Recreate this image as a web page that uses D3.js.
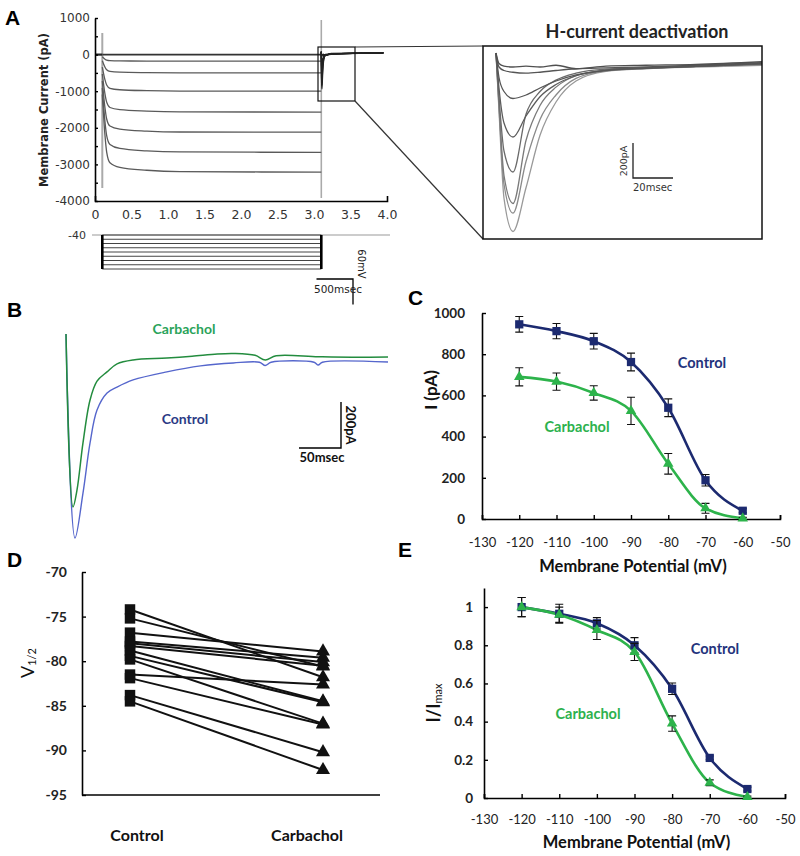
<!DOCTYPE html>
<html>
<head>
<meta charset="utf-8">
<script src="https://cdn.jsdelivr.net/npm/d3@7"></script>
<style>
  body { margin: 0; background: #fff; }
  svg { display: block; font-family: Lato, "Open Sans", sans-serif; }
</style>
</head>
<body>
<svg id="fig" width="800" height="856"></svg>
<script>
// ---------------- data ----------------

// A: current traces during the hyperpolarising steps (s, pA)
var stepTimes = [0.1, 0.137, 0.16, 0.205, 0.34, 0.71, 1.16, 3.1];
var stepTraces = [
  [0, 0, 0, 0, 0, 0, 0, 0],
  [-60, -125, -150, -165, -173, -177, -180, -180],
  [-170, -345, -415, -460, -480, -492, -498, -500],
  [-340, -690, -830, -920, -960, -985, -997, -1000],
  [-530, -1080, -1300, -1445, -1505, -1545, -1565, -1570],
  [-720, -1460, -1760, -1950, -2035, -2090, -2115, -2120],
  [-910, -1840, -2215, -2455, -2565, -2630, -2660, -2670],
  [-1090, -2215, -2665, -2955, -3080, -3160, -3200, -3210]
];
var holdTimes = [0, 0.1];
var holdCurrent = [0, 0];
var stepOn = 0.1, stepOff = 3.1;
var aYTicks = [1000, 0, -1000, -2000, -3000, -4000];
var aYMinor = [1000, 500, 0, -500, -1000, -1500, -2000, -2500, -3000, -3500, -4000];
var aXTicks = [0, 0.5, 1.0, 1.5, 2.0, 2.5, 3.0, 3.5, 4.0];
var protocolLevels = [-40, -50, -60, -70, -80, -90, -100, -110, -120];

// A inset: tail currents after the step (ms, pA)
var tailMs = [0, 1.5, 4, 8.5, 15, 22, 30, 40, 55, 75, 100, 133];
var tailTraces = [
  [80, 20, 5, 0, 5, 0, 10, -10, 5, 10, 15, 30],
  [80, 0, -20, -30, -35, -30, -20, -10, -5, 0, 10, 25],
  [80, -60, -140, -180, -160, -120, -80, -45, -20, -8, 3, 20],
  [80, -120, -320, -400, -280, -170, -100, -50, -18, -5, 3, 20],
  [80, -170, -480, -600, -270, -140, -75, -35, -12, -5, 5, 15],
  [80, -210, -620, -780, -420, -220, -115, -50, -18, -5, 5, 20],
  [80, -230, -670, -835, -540, -300, -160, -65, -22, -8, 3, 18],
  [80, -250, -750, -940, -690, -390, -200, -80, -25, -10, 0, 10]
];
var tailGrays = ["#505050", "#555", "#555", "#5c5c5c", "#6a6a6a", "#7a7a7a", "#8a8a8a", "#999"];
var tailEndTime = 3.95, tailEndCurrent = 45;

// B: example deactivation traces (ms, pA)
var bControlT = [0, 10.7, 20.2, 28.6, 36.9, 48.8, 60.7, 79.8, 120, 160, 199, 230, 237, 244, 295, 300, 305, 383];
var bControlI = [135, -752, -557, -339, -196, -122, -96, -65, -30, -4, 9, 12, -2, 12, 12, 0, 12, 13];
var bCarbT = [0, 8.3, 13.1, 20.2, 28.6, 36.9, 48.8, 60.7, 79.8, 120, 150, 180, 200, 225, 237, 250, 300, 340, 383];
var bCarbI = [135, -617, -543, -339, -152, -70, -30, 5, 22, 30, 38, 48, 50, 42, 22, 40, 36, 34, 35];

// C, E: I-V and normalised activation
var potentials = [-120, -110, -100, -90, -80, -70, -60];
var cControl = [945, 912, 863, 762, 540, 188, 40];
var cControlErr = [38, 37, 38, 43, 43, 28, 10];
var cCarb = [690, 667, 612, 525, 268, 52, 3];
var cCarbErr = [44, 42, 35, 66, 50, 24, 5];
var cYTicks = [0, 200, 400, 600, 800, 1000];
var vTicks = [-130, -120, -110, -100, -90, -80, -70, -60, -50];

var eControl = [1.0, 0.965, 0.915, 0.80, 0.572, 0.21, 0.047];
var eControlErr = [0.05, 0.05, 0.03, 0.04, 0.03, 0.01, 0.01];
var eCarb = [1.0, 0.96, 0.88, 0.765, 0.39, 0.08, 0.005];
var eCarbErr = [0.05, 0.04, 0.05, 0.045, 0.04, 0.015, 0.005];
var eYTicks = [0, 0.2, 0.4, 0.6, 0.8, 1];

// D: paired V1/2 values
var dGroups = ["Control", "Carbachol"];
var dControl = [-74.2, -75.2, -76.8, -77.8, -78.0, -78.3, -78.8, -79.4, -79.8, -81.5, -81.9, -83.8, -84.5];
var dCarb = [-81.8, -80.6, -78.9, -79.6, -80.1, -80.5, -84.5, -84.6, -87.0, -82.6, -87.1, -90.2, -92.2];
var dYTicks = [-70, -75, -80, -85, -90, -95];

var navy = "#1c2a70", green = "#2db34b";

// ---------------- drawing ----------------
var svg = d3.select("#fig");
svg.append("rect").attr("width", 800).attr("height", 856).attr("fill", "#fff");

function styleAxis(g, font, size, weight, color) {
  g.select(".domain").attr("stroke", "#000").attr("stroke-width", 1.6);
  g.selectAll(".tick line").attr("stroke", "#000").attr("stroke-width", 1.4);
  g.selectAll("text").attr("font-family", font).attr("font-size", size)
    .attr("font-weight", weight).attr("fill", color || "#111");
}

function panelLabel(t, x, y) {
  svg.append("text").attr("x", x).attr("y", y).text(t)
    .attr("font-family", "Liberation Sans, Arial").attr("font-weight", "bold").attr("font-size", 21);
}

function pairs(xs, ys) { return xs.map(function(x, i) { return [x, ys[i]]; }); }

panelLabel("A", 5, 25);
panelLabel("B", 7, 317);
panelLabel("C", 408, 305);
panelLabel("D", 7, 567);
panelLabel("E", 398, 557);

// ===== panel A =====
var xA = d3.scaleLinear().domain([0, 4]).range([95, 387]);
var yA = d3.scaleLinear().domain([-4000, 1000]).range([201, 18]);
var gA = svg.append("g");

var lineA = d3.line().x(function(d) { return xA(d[0]); }).y(function(d) { return yA(d[1]); })
  .curve(d3.curveMonotoneX);

// capacitive artefacts
gA.append("line").attr("x1", xA(stepOn)).attr("x2", xA(stepOn)).attr("y1", 33).attr("y2", 188)
  .attr("stroke", "#aaa").attr("stroke-width", 2);
gA.append("line").attr("x1", xA(stepOff)).attr("x2", xA(stepOff)).attr("y1", 20).attr("y2", 198)
  .attr("stroke", "#aaa").attr("stroke-width", 1.6);

gA.append("path").attr("d", lineA(pairs(holdTimes, holdCurrent)))
  .attr("fill", "none").attr("stroke", "#222").attr("stroke-width", 2.2);
stepTraces.forEach(function(tr, i) {
  gA.append("path").attr("d", lineA(pairs(stepTimes, tr)))
    .attr("fill", "none").attr("stroke", i === 0 ? "#333" : "#5a5a5a").attr("stroke-width", i === 0 ? 1.6 : 1.3);
});
// tails after the step
tailTraces.forEach(function(tr) {
  var pts = tailMs.map(function(ms, j) { return [stepOff + ms / 1000, tr[j]]; });
  pts.push([tailEndTime, tailEndCurrent]);
  gA.append("path").attr("d", lineA(pts)).attr("fill", "none")
    .attr("stroke", "#222").attr("stroke-width", 1.3);
});

var axAy = gA.append("g").attr("transform", "translate(95,0)")
  .call(d3.axisLeft(yA).tickValues(aYMinor).tickSizeInner(-3).tickSizeOuter(0).tickPadding(5)
    .tickFormat(function(d) { return aYTicks.indexOf(d) >= 0 ? String(d) : ""; }));
styleAxis(axAy, "DejaVu Sans", 12, "normal", "#333");
var axAx = gA.append("g").attr("transform", "translate(0,201)")
  .call(d3.axisBottom(xA).tickValues(aXTicks).tickSizeInner(0).tickSizeOuter(-5).tickPadding(9)
    .tickFormat(function(d) { return d === 0 ? "0" : d.toFixed(1); }));
styleAxis(axAx, "DejaVu Sans", 12.5, "normal", "#333");

gA.append("text").attr("transform", "translate(44,110) rotate(-90)").attr("text-anchor", "middle")
  .attr("dominant-baseline", "central").attr("font-family", "DejaVu Sans").attr("font-weight", "bold")
  .attr("font-size", 11.5).attr("fill", "#222").text("Membrane Current (pA)");

// zoom box + connectors
gA.append("rect").attr("x", 318).attr("y", 47).attr("width", 37).attr("height", 54)
  .attr("fill", "none").attr("stroke", "#111").attr("stroke-width", 1.2);
gA.append("line").attr("x1", 355).attr("y1", 47).attr("x2", 483).attr("y2", 46).attr("stroke", "#333").attr("stroke-width", 1.2);
gA.append("line").attr("x1", 355).attr("y1", 101).attr("x2", 483).attr("y2", 239).attr("stroke", "#333").attr("stroke-width", 1.2);

// voltage protocol
var yV = d3.scaleLinear().domain([-120, -40]).range([269, 235]);
gA.append("line").attr("x1", 92).attr("x2", 390).attr("y1", yV(-40)).attr("y2", yV(-40))
  .attr("stroke", "#999").attr("stroke-width", 1);
protocolLevels.forEach(function(v) {
  gA.append("line").attr("x1", xA(stepOn)).attr("x2", xA(stepOff)).attr("y1", yV(v)).attr("y2", yV(v))
    .attr("stroke", "#444").attr("stroke-width", 1);
});
[stepOn, stepOff].forEach(function(t) {
  gA.append("line").attr("x1", xA(t)).attr("x2", xA(t)).attr("y1", yV(-40)).attr("y2", yV(-120))
    .attr("stroke", "#000").attr("stroke-width", 2.6);
});
gA.append("text").attr("x", 86).attr("y", yV(-40)).attr("dy", "0.35em").attr("text-anchor", "end")
  .attr("font-family", "DejaVu Sans").attr("font-size", 11).attr("fill", "#333").text("-40");
// scale bar 60 mV / 500 ms
var sbX = 353, sbY = 279;
gA.append("path").attr("d", "M" + (sbX - (xA(0.5) - xA(0))) + "," + sbY + "H" + sbX + "V" + (sbY - (yV(-60) - yV(-120))))
  .attr("fill", "none").attr("stroke", "#000").attr("stroke-width", 1.3);
gA.append("text").attr("transform", "translate(358," + (sbY - 15) + ") rotate(90)").attr("text-anchor", "middle")
  .attr("font-family", "DejaVu Sans").attr("font-size", 10).attr("fill", "#222").text("60mV");
gA.append("text").attr("x", 338).attr("y", 293).attr("text-anchor", "middle")
  .attr("font-family", "DejaVu Sans").attr("font-size", 10.5).attr("fill", "#222").text("500msec");

// ===== panel A inset =====
var xI = d3.scaleLinear().domain([0, 133]).range([496, 762]);
var yI = d3.scaleLinear().domain([0, -1000]).range([67, 242]);
var gI = svg.append("g");
gI.append("text").attr("x", 637).attr("y", 38).attr("text-anchor", "middle").attr("font-weight", "bold")
  .attr("font-size", 18).attr("fill", "#222").text("H-current deactivation");
var lineI = d3.line().x(function(d) { return xI(d[0]); }).y(function(d) { return yI(d[1]); })
  .curve(d3.curveMonotoneX);
tailTraces.slice().reverse().forEach(function(tr, k) {
  var i = tailTraces.length - 1 - k;
  gI.append("path").attr("d", lineI(pairs(tailMs, tr))).attr("fill", "none")
    .attr("stroke", tailGrays[i]).attr("stroke-width", 1.3);
});
gI.append("rect").attr("x", 483).attr("y", 46).attr("width", 279).attr("height", 193)
  .attr("fill", "none").attr("stroke", "#111").attr("stroke-width", 1.5);
var iX = 633, iY = 178;
gI.append("path").attr("d", "M" + iX + "," + (iY - (yI(-200) - yI(0))) + "V" + iY + "H" + (iX + xI(20) - xI(0)))
  .attr("fill", "none").attr("stroke", "#222").attr("stroke-width", 1.3);
gI.append("text").attr("transform", "translate(627," + (iY - 17) + ") rotate(-90)").attr("text-anchor", "middle")
  .attr("font-family", "DejaVu Sans").attr("font-size", 9.5).attr("fill", "#333").text("200pA");
gI.append("text").attr("x", iX).attr("y", 191).attr("font-family", "DejaVu Sans").attr("font-size", 10)
  .attr("fill", "#333").text("20msec");

// ===== panel B =====
var xB = d3.scaleLinear().domain([0, 383]).range([66, 388]);
var yB = d3.scaleLinear().domain([0, -800]).range([365, 549]);
var gB = svg.append("g");
var lineB = d3.line().x(function(d) { return xB(d[0]); }).y(function(d) { return yB(d[1]); })
  .curve(d3.curveCatmullRom.alpha(0.5));
gB.append("path").attr("d", lineB(pairs(bControlT, bControlI))).attr("fill", "none")
  .attr("stroke", "#5566cc").attr("stroke-width", 1.4);
gB.append("path").attr("d", lineB(pairs(bCarbT, bCarbI))).attr("fill", "none")
  .attr("stroke", "#238c3e").attr("stroke-width", 1.5);
gB.append("text").attr("x", 184).attr("y", 329).attr("dy", "0.35em").attr("text-anchor", "middle")
  .attr("font-weight", "bold").attr("font-size", 14).attr("fill", "#2aa35a").text("Carbachol");
gB.append("text").attr("x", 185).attr("y", 419).attr("dy", "0.35em").attr("text-anchor", "middle")
  .attr("font-weight", "bold").attr("font-size", 14).attr("fill", "#2b3a85").text("Control");
var bX = 341, bY = 448;
gB.append("path").attr("d", "M" + (bX - (xB(50) - xB(0))) + "," + bY + "H" + bX + "V" + (bY - (yB(-200) - yB(0))))
  .attr("fill", "none").attr("stroke", "#000").attr("stroke-width", 1.4);
gB.append("text").attr("transform", "translate(346," + (bY - 23) + ") rotate(90)").attr("text-anchor", "middle")
  .attr("font-weight", "bold").attr("font-size", 13).attr("fill", "#111").text("200pA");
gB.append("text").attr("x", 322).attr("y", 462).attr("text-anchor", "middle")
  .attr("font-weight", "bold").attr("font-size", 13).attr("fill", "#111").text("50msec");

// ===== helper for C and E =====
function ivPanel(opt) {
  var g = svg.append("g");
  var x = opt.x, y = opt.y;
  var ax = g.append("g").attr("transform", "translate(0," + y.range()[0] + ")")
    .call(d3.axisBottom(x).tickValues(vTicks).tickSizeInner(-4).tickSizeOuter(-4).tickPadding(opt.xPad)
      .tickFormat(function(d) { return String(d); }));
  styleAxis(ax, "Lato", 13, "normal", "#222");
  var ay = g.append("g").attr("transform", "translate(" + x.range()[0] + ",0)")
    .call(d3.axisLeft(y).tickValues(opt.yTicks).tickSizeInner(-4).tickSizeOuter(0).tickPadding(opt.yPad)
      .tickFormat(function(d) { return String(d); }));
  styleAxis(ay, "Lato", 13.5, "bold", "#222");

  var line = d3.line().x(function(d) { return x(d[0]); }).y(function(d) { return y(d[1]); })
    .curve(d3.curveMonotoneX);
  var series = [
    { v: opt.ctrl, e: opt.ctrlErr, color: navy, sym: d3.symbolSquare, size: 68 },
    { v: opt.carb, e: opt.carbErr, color: green, sym: d3.symbolTriangle, size: 48 }
  ];
  series.forEach(function(s) {
    g.append("path").attr("d", line(pairs(potentials, s.v))).attr("fill", "none")
      .attr("stroke", s.color).attr("stroke-width", 2.6);
  });
  series.forEach(function(s) {
    potentials.forEach(function(p, i) {
      var cx = x(p), y1 = y(s.v[i] + s.e[i]), y2 = y(s.v[i] - s.e[i]);
      g.append("path").attr("d", "M" + cx + "," + y1 + "V" + y2 + "M" + (cx - 4) + "," + y1 + "H" + (cx + 4)
        + "M" + (cx - 4) + "," + y2 + "H" + (cx + 4)).attr("stroke", "#111").attr("stroke-width", 1.1).attr("fill", "none");
    });
    potentials.forEach(function(p, i) {
      g.append("path").attr("d", d3.symbol(s.sym, s.size)())
        .attr("transform", "translate(" + x(p) + "," + y(s.v[i]) + ")").attr("fill", s.color);
    });
  });
  g.append("text").attr("x", opt.ctrlLab[0]).attr("y", opt.ctrlLab[1]).attr("dy", "0.35em").attr("text-anchor", "middle")
    .attr("font-weight", "bold").attr("font-size", 14.5).attr("fill", "#24337c").text("Control");
  g.append("text").attr("x", opt.carbLab[0]).attr("y", opt.carbLab[1]).attr("dy", "0.35em").attr("text-anchor", "middle")
    .attr("font-weight", "bold").attr("font-size", 14.5).attr("fill", "#2cb14d").text("Carbachol");
  g.append("text").attr("x", (x.range()[0] + x.range()[1]) / 2 + 2).attr("y", opt.titleY).attr("dy", "0.35em")
    .attr("text-anchor", "middle").attr("font-weight", "bold").attr("font-size", 16.5).attr("fill", "#111")
    .text("Membrane Potential (mV)");
  return g;
}

// ===== panel C =====
var gC = ivPanel({
  x: d3.scaleLinear().domain([-130, -50]).range([482, 780]),
  y: d3.scaleLinear().domain([0, 1000]).range([519, 313]),
  yTicks: cYTicks, xPad: 19, yPad: 17,
  ctrl: cControl, ctrlErr: cControlErr, carb: cCarb, carbErr: cCarbErr,
  ctrlLab: [702, 363], carbLab: [577, 427], titleY: 566
});
gC.append("text").attr("transform", "translate(430,390) rotate(-90)").attr("text-anchor", "middle")
  .attr("dominant-baseline", "central").attr("font-weight", "bold").attr("font-size", 17).attr("fill", "#111")
  .text("I (pA)");

// ===== panel E =====
var gE = ivPanel({
  x: d3.scaleLinear().domain([-130, -50]).range([484, 785]),
  y: d3.scaleLinear().domain([0, 1.1]).range([798, 588]),
  yTicks: eYTicks, xPad: 17, yPad: 11,
  ctrl: eControl, ctrlErr: eControlErr, carb: eCarb, carbErr: eCarbErr,
  ctrlLab: [715, 649], carbLab: [588, 714], titleY: 842
});
var eT = gE.append("text").attr("transform", "translate(433,703) rotate(-90)").attr("text-anchor", "middle")
  .attr("dominant-baseline", "central").attr("font-weight", "bold").attr("font-size", 18).attr("fill", "#111");
eT.append("tspan").text("I/I");
eT.append("tspan").attr("font-size", 11).attr("font-weight", "normal").attr("dy", 4).text("max");

// ===== panel D =====
var yD = d3.scaleLinear().domain([-95, -70]).range([795, 572]);
var xD = d3.scalePoint().domain(dGroups).range([130, 323]);
var gD = svg.append("g");
var axDy = gD.append("g").attr("transform", "translate(82,0)")
  .call(d3.axisLeft(yD).tickValues(dYTicks).tickSizeInner(-4).tickSizeOuter(0).tickPadding(15)
    .tickFormat(function(d) { return String(d); }));
styleAxis(axDy, "Lato", 14, "bold", "#222");
gD.append("line").attr("x1", 82).attr("x2", 380).attr("y1", yD(-95)).attr("y2", yD(-95))
  .attr("stroke", "#000").attr("stroke-width", 1.6);
dControl.forEach(function(v, i) {
  gD.append("line").attr("x1", xD("Control")).attr("y1", yD(v))
    .attr("x2", xD("Carbachol")).attr("y2", yD(dCarb[i])).attr("stroke", "#111").attr("stroke-width", 2);
});
dControl.forEach(function(v) {
  gD.append("path").attr("d", d3.symbol(d3.symbolSquare, 110)())
    .attr("transform", "translate(" + xD("Control") + "," + yD(v) + ")").attr("fill", "#111");
});
dCarb.forEach(function(v) {
  gD.append("path").attr("d", d3.symbol(d3.symbolTriangle, 85)())
    .attr("transform", "translate(" + xD("Carbachol") + "," + yD(v) + ")").attr("fill", "#111");
});
[["Control", 137], ["Carbachol", 307]].forEach(function(c) {
  gD.append("text").attr("x", c[1]).attr("y", 835).attr("dy", "0.35em").attr("text-anchor", "middle")
    .attr("font-weight", "bold").attr("font-size", 16).attr("fill", "#111").text(c[0]);
});
var dT = gD.append("text").attr("transform", "translate(27,663) rotate(-90)").attr("text-anchor", "middle")
  .attr("dominant-baseline", "central").attr("font-size", 18).attr("fill", "#111");
dT.append("tspan").text("V");
dT.append("tspan").attr("font-size", 11).attr("dy", 4).text("1/2");
</script>
</body>
</html>
